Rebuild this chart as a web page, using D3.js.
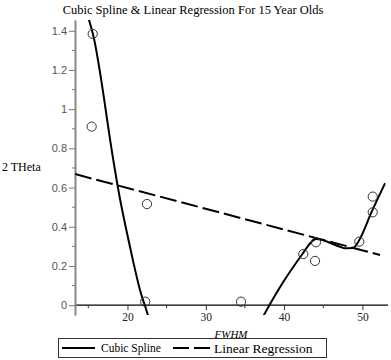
<!DOCTYPE html>
<html>
<head>
<meta charset="utf-8">
<script src="https://cdn.jsdelivr.net/npm/d3@7"></script>
<style>
  body { margin: 0; background: #fff; }
  svg { display: block; font-family: "Liberation Serif", "Times New Roman", serif; }
  .xax text { font-family: "Liberation Serif", serif; font-size: 11.5px; fill: #222; }
  .yax text { font-family: "Liberation Sans", Arial, sans-serif; font-size: 11px; fill: #555; }
</style>
</head>
<body>
<div id="chart"></div>
<script>
// 数据点 (FWHM, 2 THeta)
const pointX = [15.56, 15.43, 22.49, 22.27, 34.50, 42.45, 43.95, 44.07, 49.60, 51.32, 51.32];
const pointY = [1.384, 0.911, 0.516, 0.018, 0.018, 0.261, 0.226, 0.321, 0.324, 0.474, 0.554];

// 三次样条（从图中读取的两段）
const splineLeftX = [14.76, 15.59, 18.19, 18.79, 20.32, 21.60, 22.53, 22.80];
const splineLeftY = [1.496, 1.384, 0.741, 0.598, 0.298, 0.078, -0.040, -0.075];
const splineRightX = [37.30, 37.43, 39.26, 42.25, 43.52, 44.07, 47.14, 47.78, 48.84, 49.48, 51.19, 52.89];
const splineRightY = [-0.060, -0.050, 0.078, 0.256, 0.324, 0.338, 0.298, 0.290, 0.293, 0.324, 0.477, 0.622];

// 线性回归端点
const regX = [13.30, 52.25];
const regY = [0.669, 0.256];

// 刻度
const xTicks = [20, 30, 40, 50];
const xMinorTicks = [15, 25, 35, 45];
const yTicks = [0, 0.2, 0.4, 0.6, 0.8, 1, 1.2, 1.4];
const yMinorTicks = [0.1, 0.3, 0.5, 0.7, 0.9, 1.1, 1.3];

const W = 391, H = 360;
const margin = {top: 20, right: 3, bottom: 45, left: 75};
const width = W - margin.left - margin.right,
      height = H - margin.top - margin.bottom;

const svg = d3.select("#chart").append("svg")
    .attr("width", W)
    .attr("height", H);

const g = svg.append("g")
    .attr("transform", `translate(${margin.left}, ${margin.top})`);

const x = d3.scaleLinear().domain([13.3, 53.27]).range([0, width]);
const y = d3.scaleLinear().domain([-0.05, 1.455]).range([height, 0]);

// 裁剪区域
svg.append("defs").append("clipPath").attr("id", "clip")
    .append("rect").attr("width", width).attr("height", height);

// X轴（在 y=0 处）
const xAxisG = g.append("g").attr("class", "xax").attr("transform", `translate(0, ${y(0)})`);
xAxisG.call(d3.axisBottom(x).tickValues(xTicks).tickSize(5).tickSizeOuter(0).tickPadding(3));
xAxisG.attr("font-family", null).attr("font-size", null);
xAxisG.select(".domain").attr("d", `M0,0H${width}`).attr("stroke", "#000").attr("stroke-width", 1.3);
xAxisG.selectAll(".tick line").attr("stroke", "#333");
xAxisG.selectAll(".minor").data(xMinorTicks).enter().append("line")
    .attr("x1", d => x(d)).attr("x2", d => x(d))
    .attr("y1", 0).attr("y2", 3).attr("stroke", "#333");

// Y轴
const yAxisG = g.append("g").attr("class", "yax");
yAxisG.call(d3.axisLeft(y).tickValues(yTicks).tickSize(6).tickSizeOuter(0).tickPadding(2)
    .tickFormat(d => d3.format("~g")(d)));
yAxisG.attr("font-family", null).attr("font-size", null);
yAxisG.select(".domain").attr("stroke", "#888").attr("stroke-width", 2);
yAxisG.selectAll(".tick line").attr("stroke", "#777");
yAxisG.selectAll(".minor").data(yMinorTicks).enter().append("line")
    .attr("x1", -3).attr("x2", 0)
    .attr("y1", d => y(d)).attr("y2", d => y(d)).attr("stroke", "#777");

const plot = g.append("g").attr("clip-path", "url(#clip)");

// 线性回归（虚线）
const line = d3.line().x(d => x(d[0])).y(d => y(d[1]));
plot.append("path")
    .datum(d3.zip(regX, regY))
    .attr("fill", "none")
    .attr("stroke", "#000")
    .attr("stroke-width", 2)
    .attr("stroke-dasharray", "17,5")
    .attr("d", line);

// 三次样条（实线）
const splineLine = d3.line().x(d => x(d[0])).y(d => y(d[1])).curve(d3.curveMonotoneX);
[d3.zip(splineLeftX, splineLeftY), d3.zip(splineRightX, splineRightY)].forEach(seg => {
    plot.append("path")
        .datum(seg)
        .attr("fill", "none")
        .attr("stroke", "#000")
        .attr("stroke-width", 2)
        .attr("d", splineLine);
});

// 数据点
g.selectAll(".dot")
    .data(d3.zip(pointX, pointY))
    .enter().append("circle")
    .attr("class", "dot")
    .attr("cx", d => x(d[0]))
    .attr("cy", d => y(d[1]))
    .attr("r", 4.6)
    .attr("fill", "none")
    .attr("stroke", "#333")
    .attr("stroke-width", 1);

// 标题
svg.append("text")
    .attr("x", 193)
    .attr("y", 14)
    .attr("text-anchor", "middle")
    .style("font-size", "12.5px")
    .text("Cubic Spline & Linear Regression For 15 Year Olds");

// 轴标题
svg.append("text")
    .attr("x", 2)
    .attr("y", 171)
    .style("font-size", "12px")
    .text("2 THeta");

svg.append("text")
    .attr("x", 231)
    .attr("y", 338)
    .attr("text-anchor", "middle")
    .style("font-size", "11px")
    .style("font-style", "italic")
    .text("FWHM");

// 图例
const legend = svg.append("g");
legend.append("rect")
    .attr("x", 58.5).attr("y", 338.5)
    .attr("width", 268).attr("height", 19)
    .attr("fill", "none").attr("stroke", "#333");
legend.append("line")
    .attr("x1", 62).attr("x2", 95).attr("y1", 348).attr("y2", 348)
    .attr("stroke", "#000").attr("stroke-width", 2);
legend.append("text")
    .attr("x", 101).attr("y", 352)
    .style("font-size", "11.5px")
    .text("Cubic Spline");
legend.append("line")
    .attr("x1", 173).attr("x2", 211).attr("y1", 348).attr("y2", 348)
    .attr("stroke", "#000").attr("stroke-width", 2)
    .attr("stroke-dasharray", "16,5");
legend.append("text")
    .attr("x", 214).attr("y", 353)
    .style("font-size", "13.5px")
    .text("Linear Regression");
</script>
</body>
</html>
